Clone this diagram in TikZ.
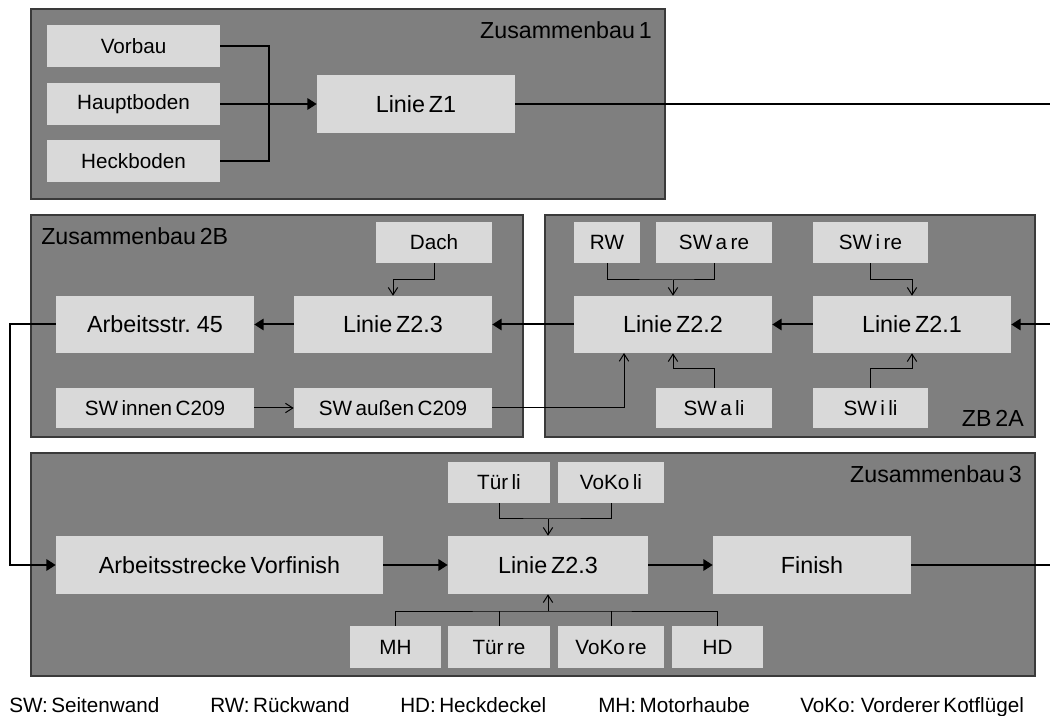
\documentclass[tikz,border=0pt]{standalone}
\usepackage{fontspec}
\setmainfont{Liberation Sans}[WordSpace={0.6}]
\usetikzlibrary{arrows.meta}
\def\pxu{0.75pt}
\definecolor{contfill}{HTML}{7F7F7F}
\definecolor{contline}{HTML}{3A3A3A}
\definecolor{boxfill}{HTML}{D9D9D9}
\tikzset{
  cont/.style={draw=contline, line width=0.8pt, fill=contfill, inner sep=0pt},
  bx/.style={fill=boxfill, inner sep=0pt, font=\fontsize{15.5pt}{17pt}\selectfont},
  bigbx/.style={fill=boxfill, inner sep=0pt, font=\fontsize{17.5pt}{19pt}\selectfont},
  lbl/.style={inner sep=0pt, font=\fontsize{17.4pt}{19pt}\selectfont},
  leg/.style={inner sep=0pt, font=\fontsize{15.5pt}{17pt}\selectfont, anchor=base west},
  thk/.style={line width=1.5pt, -{Triangle[length=7pt,width=8.5pt]}},
  thkline/.style={line width=1.5pt},
  thn/.style={line width=0.75pt, -{Straight Barb[length=5.5pt,width=7pt]}},
  thnline/.style={line width=0.75pt},
}
\begin{document}
\begin{tikzpicture}[x=0.75pt,y=-0.75pt]
\useasboundingbox (0,0) rectangle (1050,716);
% containers
\node[cont, minimum width=634*\pxu, minimum height=190*\pxu] (c1) at (348,104) {};
\node[cont, minimum width=492*\pxu, minimum height=222*\pxu] (c2b) at (277,326) {};
\node[cont, minimum width=490*\pxu, minimum height=222*\pxu] (c2a) at (790,326) {};
\node[cont, minimum width=1004*\pxu, minimum height=223*\pxu] (c3) at (533,564.5) {};
% container labels
\node[lbl, anchor=base east] (l1) at (652,39) {Zusammenbau 1};
\node[lbl, anchor=base west] (l2b) at (41,245) {Zusammenbau 2B};
\node[lbl, anchor=base east] (l2a) at (1024,427) {ZB 2A};
\node[lbl, anchor=base east] (l3) at (1022,483) {Zusammenbau 3};
% Zusammenbau 1
\node[bx, minimum width=173*\pxu, minimum height=42*\pxu] (vorbau) at (133.5,46) {Vorbau};
\node[bx, minimum width=173*\pxu, minimum height=42*\pxu] (haupt) at (133.5,104) {Hauptboden};
\node[bx, minimum width=173*\pxu, minimum height=42*\pxu] (heck) at (133.5,161) {Heckboden};
\node[bigbx, minimum width=198*\pxu, minimum height=58*\pxu] (z1) at (416,104) {Linie Z1};
% Zusammenbau 2B
\node[bx, minimum width=116*\pxu, minimum height=41*\pxu] (dach) at (434,242.5) {Dach};
\node[bigbx, minimum width=198*\pxu, minimum height=57*\pxu] (arb45) at (155,324.5) {Arbeitsstr. 45};
\node[bigbx, minimum width=198*\pxu, minimum height=57*\pxu] (z23b) at (393,324.5) {Linie Z2.3};
\node[bx, minimum width=198*\pxu, minimum height=40*\pxu] (swinnen) at (155,408) {SW innen C209};
\node[bx, minimum width=198*\pxu, minimum height=40*\pxu] (swaussen) at (393,408) {SW außen C209};
% ZB 2A
\node[bx, minimum width=66*\pxu, minimum height=41*\pxu] (rw) at (607,242.5) {RW};
\node[bx, minimum width=116*\pxu, minimum height=41*\pxu] (swaure) at (714,242.5) {SW a re};
\node[bx, minimum width=115*\pxu, minimum height=41*\pxu] (swire) at (870.5,242.5) {SW i re};
\node[bigbx, minimum width=198*\pxu, minimum height=57*\pxu] (z22) at (673,324.5) {Linie Z2.2};
\node[bigbx, minimum width=198*\pxu, minimum height=57*\pxu] (z21) at (912,324.5) {Linie Z2.1};
\node[bx, minimum width=116*\pxu, minimum height=40*\pxu] (swali) at (714,408) {SW a li};
\node[bx, minimum width=115*\pxu, minimum height=40*\pxu] (swili) at (870.5,408) {SW i li};
% Zusammenbau 3
\node[bigbx, minimum width=327*\pxu, minimum height=58*\pxu] (vorfin) at (219.5,565) {Arbeitsstrecke Vorfinish};
\node[bigbx, minimum width=200*\pxu, minimum height=58*\pxu] (z23c) at (548,565) {Linie Z2.3};
\node[bigbx, minimum width=198*\pxu, minimum height=58*\pxu] (finish) at (812,565) {Finish};
\node[bx, minimum width=102*\pxu, minimum height=41*\pxu] (turli) at (499,482.5) {Tür li};
\node[bx, minimum width=106*\pxu, minimum height=41*\pxu] (vokoli) at (611,482.5) {VoKo li};
\node[bx, minimum width=91*\pxu, minimum height=42*\pxu] (mh) at (395.5,647) {MH};
\node[bx, minimum width=102*\pxu, minimum height=42*\pxu] (turre) at (499,647) {Tür re};
\node[bx, minimum width=106*\pxu, minimum height=42*\pxu] (vokore) at (611,647) {VoKo re};
\node[bx, minimum width=91*\pxu, minimum height=42*\pxu] (hd) at (717.5,647) {HD};
% coordinates
\coordinate (j1) at (269,104);
\coordinate (e1) at (1050,104);
\coordinate (e2) at (1050,324.5);
\coordinate (e3) at (1050,565);
\coordinate (cl) at (10,324.5);
\coordinate (j2) at (673,280);
\coordinate (j3) at (912,280);
\coordinate (j4) at (673,369);
\coordinate (j5) at (912,369);
\coordinate (j6) at (624,353);
\coordinate (j7) at (393,280);
\coordinate (j8) at (548,519);
\coordinate (j9) at (548,611);
% connectors Z1
\draw[thkline] (vorbau.east) -| (j1) |- (heck.east);
\draw[thk] (haupt.east) -- (z1.west);
\draw[thkline] (z1.east) -- (e1);
% connectors 2A / 2B
\draw[thk] (e2) -- (z21.east);
\draw[thk] (z21.west) -- (z22.east);
\draw[thk] (z22.west) -- (z23b.east);
\draw[thk] (z23b.west) -- (arb45.east);
\draw[thk] (arb45.west) -- (cl) |- (vorfin.west);
\draw[thnline] (rw.south) |- (j2) -| (swaure.south);
\draw[thn] (j2) -- (z22.north);
\draw[thn] (swire.south) |- (j3) -- (z21.north);
\draw[thn] (swali.north) |- (j4) -- (z22.south);
\draw[thn] (swili.north) |- (j5) -- (z21.south);
\draw[thn] (swaussen.east) -| (j6);
\draw[thn] (dach.south) |- (j7) -- (z23b.north);
\draw[thn] (swinnen.east) -- (swaussen.west);
% connectors 3
\draw[thnline] (turli.south) |- (j8) -| (vokoli.south);
\draw[thn] (j8) -- (z23c.north);
\draw[thnline] (mh.north) |- (j9) -| (hd.north);
\draw[thnline] (turre.north) -- (turre.north |- j9);
\draw[thnline] (vokore.north) -- (vokore.north |- j9);
\draw[thn] (j9) -- (z23c.south);
\draw[thk] (vorfin.east) -- (z23c.west);
\draw[thk] (z23c.east) -- (finish.west);
\draw[thkline] (finish.east) -- (e3);
% legend
\node[leg] (g1) at (9,712) {SW: Seitenwand};
\node[leg] (g2) at (210,712) {RW: Rückwand};
\node[leg] (g3) at (400,712) {HD: Heckdeckel};
\node[leg] (g4) at (598,712) {MH: Motorhaube};
\node[leg] (g5) at (800,712) {VoKo: Vorderer Kotflügel};
\end{tikzpicture}
\end{document}
